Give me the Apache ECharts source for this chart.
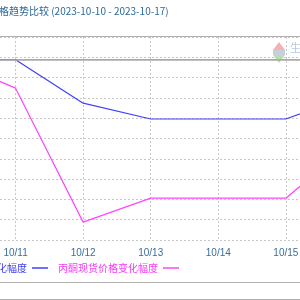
<!DOCTYPE html>
<html>
<head>
<meta charset="utf-8">
<script src="https://cdn.jsdelivr.net/npm/echarts@6/dist/echarts.min.js"></script>
<style>html,body{margin:0;padding:0;background:#fff}#c{width:300px;height:300px}</style>
</head>
<body>
<div id="c"></div>
<script>
var categories = ['10/10','10/11','10/12','10/13','10/14','10/15','10/16','10/17'];
var seriesNames = ['丙酮期货价格变化幅度','丙酮现货价格变化幅度'];
var blueValues = [0, -0.01, -1.08, -1.47, -1.47, -1.47, -0.87, -0.87];
var magentaValues = [0, -0.71, -4.01, -3.42, -3.42, -3.42, -2.03, -2.03];
var titleText = '丙酮价格趋势比较 (2023-10-10 - 2023-10-17)';

var chart = echarts.init(document.getElementById('c'), null, {renderer:'canvas'});
var cjk = '"Noto Sans CJK SC", "Noto Sans", sans-serif';
chart.setOption({
  animation:false,
  backgroundColor:'#ffffff',
  title:{text:titleText,left:-31,top:6,padding:0,textStyle:{fontSize:10,fontWeight:'normal',color:'#2d6a99',fontFamily:cjk}},
  legend:{
    left:-73, top:263, padding:0, align:'right', itemGap:10, itemWidth:16, itemHeight:1.5, icon:'rect',
    textStyle:{fontSize:10,fontFamily:cjk},
    data:[
      {name:seriesNames[0], textStyle:{color:'#3b3bf5'}},
      {name:seriesNames[1], textStyle:{color:'#f53bf5'}}
    ]
  },
  grid:{left:-52,right:-121,top:37,bottom:60,containLabel:false,outerBoundsMode:'none'},
  xAxis:{
    type:'category', data:categories, boundaryGap:false,
    axisLine:{lineStyle:{color:'#aaaaaa',width:1}},
    axisTick:{show:false},
    axisLabel:{interval:0,fontSize:10,color:'#3a6e98',fontFamily:'"Liberation Sans", sans-serif',margin:8},
    splitLine:{show:true,lineStyle:{color:'#c8c8c8',type:[2,2],width:1}}
  },
  yAxis:{
    type:'value', min:-4.45, max:0.55, interval:0.5,
    axisLine:{show:false}, axisTick:{show:false}, axisLabel:{show:false},
    splitLine:{show:true,lineStyle:{color:'#c8c8c8',type:[2,2],width:1}}
  },
  series:[
    {name:seriesNames[0],type:'line',data:blueValues,symbol:'none',
     lineStyle:{color:'#4040f8',width:1.2},itemStyle:{color:'#4040f8'},
     markLine:{silent:true,symbol:'none',label:{show:false},
       lineStyle:{color:'#a8a8a8',type:'solid',width:1.5},data:[{yAxis:0}]},
     z:3},
    {name:seriesNames[1],type:'line',data:magentaValues,symbol:'none',
     lineStyle:{color:'#ff45ff',width:1.2},itemStyle:{color:'#ff45ff'},z:3}
  ],
  graphic:[
    {type:'line',shape:{x1:0,y1:36.5,x2:300,y2:36.5},style:{stroke:'#b0b0b0',lineWidth:1},z:10},
    {type:'line',shape:{x1:0,y1:282.5,x2:300,y2:282.5},style:{stroke:'#b0b0b0',lineWidth:1}},
    {type:'line',shape:{x1:0,y1:299.5,x2:300,y2:299.5},style:{stroke:'#b0b0b0',lineWidth:1}},
    {type:'polygon',shape:{points:[[279,42],[273,50],[285,50]]},style:{fill:'#f6b0b0'}},
    {type:'rect',shape:{x:273,y:50,width:12,height:5},style:{fill:'#c8d0dc'}},
    {type:'polygon',shape:{points:[[273,55],[285,55],[279,63]]},style:{fill:'#b8e0b0'}},
    {type:'text',x:290,y:42,style:{text:'生',fontSize:11,fill:'#b8c8e0',fontFamily:cjk}}
  ]
});
</script>
</body>
</html>
